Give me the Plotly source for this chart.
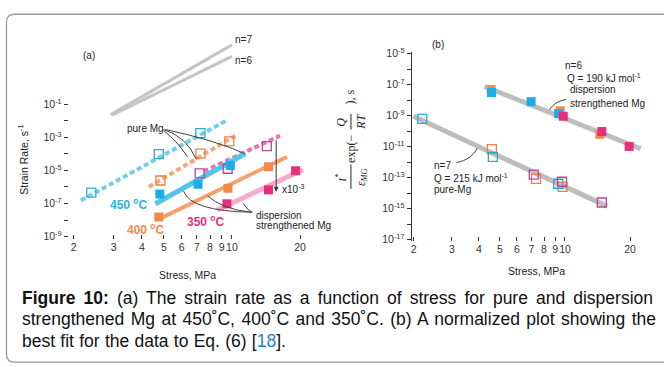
import math
import plotly.graph_objects as go

W, H = 664, 367

# ---------------- data: panel (a) strain rate vs stress ----------------
tick_stress = [2, 3, 4, 5, 6, 7, 8, 9, 10, 20]

# pure Mg (open squares)
pure450_x = [2.39, 4.75, 7.25]
pure450_y = [10**-6.34, 10**-4.02, 10**-2.75]
pure400_x = [4.83, 7.25, 9.73]
pure400_y = [10**-5.61, 10**-3.98, 10**-3.25]
pure350_x = [7.2, 9.57, 14.26]
pure350_y = [10**-5.18, 10**-4.9, 10**-3.53]
# dispersion strengthened Mg (filled squares)
disp450_x = [4.8, 7.08, 9.83]
disp450_y = [10**-6.43, 10**-5.84, 10**-4.71]
disp400_x = [4.75, 9.6, 14.5]
disp400_y = [10**-7.82, 10**-6.08, 10**-4.78]
disp350_x = [9.5, 14.5, 19.1]
disp350_y = [10**-7.02, 10**-6.18, 10**-5.02]
# fit lines
fit_pure450_x = [2.15, 9.35];  fit_pure450_y = [10**-6.82, 10**-2.02]
fit_pure400_x = [4.29, 10.35]; fit_pure400_y = [10**-6.0, 10**-2.9]
fit_pure350_x = [7.5, 16.3];   fit_pure350_y = [10**-5.06, 10**-2.9]
fit_disp450_x = [4.59, 11.45]; fit_disp450_y = [10**-7.02, 10**-3.98]
fit_disp400_x = [4.83, 17.5];  fit_disp400_y = [10**-7.9, 10**-4.18]
fit_disp350_x = [8.6, 20.6];   fit_disp350_y = [10**-7.41, 10**-4.95]
# slope guides
n7_x = [2.91, 10.0]; n7_y = [10**-1.63, 10**2.59]
n6_x = [2.95, 10.0]; n6_y = [10**-1.66, 10**1.9]

# ---------------- data: panel (b) normalized ----------------
b_disp_or_x = [4.56, 9.51, 14.5];  b_disp_or_y = [10**-7.32, 10**-8.69, 10**-10.21]
b_disp_cy_x = [4.58, 6.97, 9.35];  b_disp_cy_y = [10**-7.51, 10**-8.1, 10**-8.87]
b_disp_mg_x = [9.82, 14.8, 19.8];  b_disp_mg_y = [10**-9.04, 10**-10.03, 10**-10.99]
b_pure_cy_x = [2.19, 4.64, 9.31];  b_pure_cy_y = [10**-9.21, 10**-11.66, 10**-13.4]
b_pure_or_x = [4.59, 7.35, 9.75];  b_pure_or_y = [10**-11.17, 10**-13.08, 10**-13.6]
b_pure_mg_x = [7.17, 9.69, 14.8];  b_pure_mg_y = [10**-12.81, 10**-13.27, 10**-14.61]
b_fit_disp_x = [4.25, 22.4]; b_fit_disp_y = [10**-7.12, 10**-11.14]
b_fit_pure_x = [1.99, 15.7]; b_fit_pure_y = [10**-9.04, 10**-14.86]

ya_major = [-9, -7, -5, -3, -1]
ya_minor = [-8, -6, -4, -2]
yb_major = [-17, -15, -13, -11, -9, -7, -5]
yb_minor = [-16, -14, -12, -10, -8, -6]

CY, OR, MG = "#1aaee5", "#f28a4a", "#e6317a"
CY_O, OR_O, MG_O = "#2aa9d9", "#ef7f3f", "#b9479a"
FONT = "Liberation Sans, Arial, sans-serif"
SERIF = "Liberation Serif, Times New Roman, serif"


def px(x):
    return x / W


def py(y):
    return 1 - y / H


fig = go.Figure()


def line(xs, ys, color, width, dash=None, ax="x", ay="y"):
    fig.add_trace(go.Scatter(x=xs, y=ys, mode="lines", xaxis=ax, yaxis=ay,
                             line=dict(color=color, width=width, dash=dash),
                             showlegend=False, hoverinfo="skip"))


def pts(xs, ys, color, filled, ax="x", ay="y"):
    if filled:
        m = dict(symbol="square", size=9, color=color)
    else:
        m = dict(symbol="square-open", size=9, color=color, line=dict(width=1.3, color=color))
    fig.add_trace(go.Scatter(x=xs, y=ys, mode="markers", xaxis=ax, yaxis=ay,
                             marker=m, showlegend=False, hoverinfo="skip",
                             cliponaxis=False))


# panel (a)
line(n7_x, n7_y, "#c4c4c4", 3)
line(n6_x, n6_y, "#c4c4c4", 3)
line(fit_pure450_x, fit_pure450_y, "#74cdec", 4, "5px,3px")
line(fit_pure400_x, fit_pure400_y, "#f7a77c", 4, "5px,3px")
line(fit_pure350_x, fit_pure350_y, "#ee72aa", 4, "5px,3px")
line(fit_disp450_x, fit_disp450_y, "#55c4ec", 5)
line(fit_disp400_x, fit_disp400_y, "#f6a06f", 4)
line(fit_disp350_x, fit_disp350_y, "#f6aacc", 5)
pts(pure450_x, pure450_y, CY_O, False)
pts(pure400_x, pure400_y, OR_O, False)
pts(pure350_x, pure350_y, MG_O, False)
pts(disp450_x, disp450_y, CY, True)
pts(disp400_x, disp400_y, OR, True)
pts(disp350_x, disp350_y, MG, True)

# panel (b)
line(b_fit_disp_x, b_fit_disp_y, "#bdbdbd", 5, ax="x2", ay="y2")
line(b_fit_pure_x, b_fit_pure_y, "#bdbdbd", 5, ax="x2", ay="y2")
pts(b_disp_or_x, b_disp_or_y, OR, True, "x2", "y2")
pts(b_disp_cy_x, b_disp_cy_y, CY, True, "x2", "y2")
pts(b_disp_mg_x, b_disp_mg_y, MG, True, "x2", "y2")
pts(b_pure_or_x, b_pure_or_y, OR_O, False, "x2", "y2")
pts(b_pure_cy_x, b_pure_cy_y, CY_O, False, "x2", "y2")
pts(b_pure_mg_x, b_pure_mg_y, MG_O, False, "x2", "y2")

tickfont = dict(family=FONT, size=10.5, color="#333")
l2 = math.log10(2)
xa_range = [l2 - 5 / 227, l2 + (305 - 73) / 227]
ya_range = [-1 - 139 / 17, -1 + 101 / 17]
xb_range = [l2 - 2 / 217, l2 + (644 - 414) / 217]
yb_range = [-5 - 193 / 15.92, -5 + 2 / 15.92]

common_x = dict(type="log", tickmode="array", tickvals=tick_stress,
                ticktext=[str(v) for v in tick_stress], ticks="inside", ticklen=4,
                tickcolor="#333", tickwidth=1, showgrid=False, zeroline=False,
                showline=False, tickfont=tickfont, tickangle=0)


def yax(major, minor, **kw):
    return dict(type="log", tickmode="array", tickvals=[10**e for e in major],
                ticktext=[f"10<sup>{e}</sup>" for e in major],
                ticks="outside", ticklen=4, tickcolor="#333", showgrid=False,
                zeroline=False, tickfont=tickfont,
                minor=dict(tickmode="array", tickvals=[10**e for e in minor],
                           ticks="outside", ticklen=4, tickcolor="#333", showgrid=False),
                **kw)


fig.update_layout(
    width=W, height=H, margin=dict(l=0, r=0, t=0, b=0),
    paper_bgcolor="white", plot_bgcolor="rgba(0,0,0,0)",
    xaxis=dict(domain=[px(68), px(305)], range=xa_range, anchor="y", **common_x),
    yaxis=yax(ya_major, ya_minor, domain=[py(240), 1], range=ya_range, anchor="x",
              showline=False),
    xaxis2=dict(domain=[px(412), px(644)], range=xb_range, anchor="y2", **common_x),
    yaxis2=yax(yb_major, yb_minor, domain=[py(242), py(47)], range=yb_range, anchor="x2",
               showline=True, linecolor="#333", linewidth=1.2),
)

shapes = []
# axis lines
shapes.append(dict(type="line", xref="x", yref="y domain", x0=xa_range[0], x1=math.log10(20),
                   y0=0, y1=0, line=dict(color="#333", width=1.2)))
shapes.append(dict(type="line", xref="x domain", yref="y", x0=0, x1=0, y0=ya_range[0], y1=-0.82,
                   line=dict(color="#333", width=1.2)))
shapes.append(dict(type="line", xref="x2", yref="y2 domain", x0=xb_range[0], x1=math.log10(20),
                   y0=0, y1=0, line=dict(color="#333", width=1.2)))


def path(cmds, color="#444", width=1):
    s = ""
    for c in cmds:
        if isinstance(c, str):
            s += c + " "
        else:
            s += f"{px(c[0]):.5f},{py(c[1]):.5f} "
    shapes.append(dict(type="path", xref="paper", yref="paper", path=s.strip(),
                       line=dict(color=color, width=width)))


# leader curves panel (a)
path(["M", (163, 127), "Q", (186, 134), (196, 158)])
path(["M", (163, 128), "Q", (176, 138), (187, 155)])
path(["M", (165, 127), "Q", (215, 138), (245, 152)])
path(["M", (183, 190), "Q", (190, 211), (252, 212)])
path(["M", (207, 195), "Q", (222, 209), (251, 212)])
path(["M", (243, 203), "Q", (247, 210), (252, 212)])
# leader curves panel (b)
path(["M", (457, 161), "Q", (472, 158), (478, 146)])
path(["M", (550, 107), "Q", (555, 98), (567, 96)])
# fraction bars of (b) y label
path(["M", (351, 163), "L", (351, 188)], color="#222", width=1)
path(["M", (351, 111), "L", (351, 127)], color="#222", width=1)
# outer rounded border
r = 8
path(["M", (670, 8.5), "L", (5.5 + r, 8.5), "Q", (5.5, 8.5), (5.5, 8.5 + r),
      "L", (5.5, 366 - r), "Q", (5.5, 366), (5.5 + r, 366), "L", (670, 366)],
     color="#9a9a9a", width=1.3)
fig.update_layout(shapes=shapes)

ann = []


def text(x, y, t, size=10, color="#222", xanchor="center", family=FONT, angle=0, bold=False):
    if bold:
        t = f"<b>{t}</b>"
    ann.append(dict(x=px(x), y=py(y), xref="paper", yref="paper", text=t, showarrow=False,
                    xanchor=xanchor, yanchor="middle", textangle=angle,
                    font=dict(family=family, size=size, color=color)))


text(88, 51, "(a)")
text(438, 40, "(b)")
text(233, 34, "n=7", xanchor="left")
text(233, 56, "n=6", xanchor="left")
text(124, 126, "pure Mg", xanchor="left")
text(254, 215, "dispersion", xanchor="left")
text(254, 226, "strengthened Mg", xanchor="left")
text(280, 188, "x10<sup>-3</sup>", xanchor="left")
text(107, 204, "450 <sup>o</sup>C", size=12, color="#27b2e4", xanchor="left", bold=True)
text(124, 229, "400 <sup>o</sup>C", size=12, color="#f28a4a", xanchor="left", bold=True)
text(185, 221, "350 <sup>o</sup>C", size=12, color="#e6317a", xanchor="left", bold=True)
text(187, 277, "Stress, MPa", size=10.5)
text(537, 272, "Stress, MPa", size=10.5)
text(22, 158, "Strain Rate, s<sup>-1</sup>", size=10.5, angle=-90)
text(564, 61, "n=6", xanchor="left")
text(566, 74, "Q = 190 kJ mol<sup>-1</sup>", xanchor="left")
text(569, 86, "dispersion", xanchor="left")
text(569, 100, "strengthened Mg", xanchor="left")
text(432, 164, "n=7", xanchor="left")
text(432, 177, "Q = 215 kJ mol<sup>-1</sup>", xanchor="left")
text(432, 189, "pure-Mg", xanchor="left")
# y label of (b)
text(341, 176, "<i>t</i><sup>*</sup>", size=12, family=SERIF, angle=-90)
text(362, 176, "<i>ε</i><sub><i>MG</i></sub>", size=12, family=SERIF, angle=-90)
text(351, 147, "exp(−", size=12, family=SERIF, angle=-90)
text(341, 119, "<i>Q</i>", size=12, family=SERIF, angle=-90)
text(361, 119, "<i>RT</i>", size=12, family=SERIF, angle=-90)
text(351, 93, "), s", size=12, family=SERIF, angle=-90)

# arrow in panel (a)
ann.append(dict(x=px(276), y=py(191), xref="paper", yref="paper", ax=0, ay=-53,
                text="", showarrow=True, arrowhead=2, arrowsize=1, arrowwidth=1,
                arrowcolor="#333"))

# caption
cap = dict(family=FONT, size=17.5, color="#111")
for yy, t, ws in [(300, "<b>Figure 10:</b> (a) The strain rate as a function of stress for pure and dispersion", 3.2),
                  (322, "strengthened Mg at 450˚C, 400˚C and 350˚C. (b) A normalized plot showing the", 1.6),
                  (344, "best fit for the data to Eq. (6) [<span style='color:#2a7fc1'>18</span>].", 0.4)]:
    ann.append(dict(x=px(19), y=py(yy), xref="paper", yref="paper",
                    text=f"<span style='word-spacing:{ws}px'>{t}</span>", showarrow=False,
                    xanchor="left", yanchor="middle", font=cap))

fig.update_layout(annotations=ann)
fig.write_html("out.html")
